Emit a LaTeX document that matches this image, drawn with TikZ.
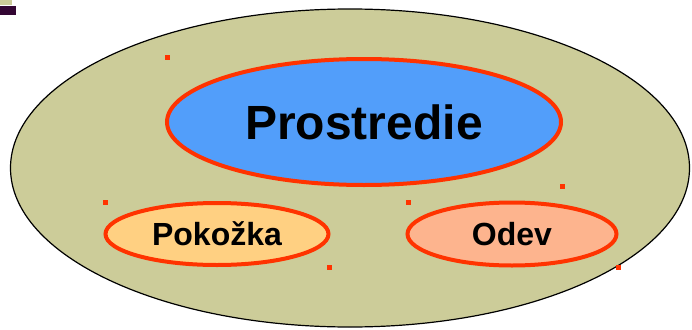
\documentclass[tikz,border=0pt]{standalone}
\usepackage{fontspec}
\setmainfont{Liberation Sans}
\usetikzlibrary{shapes.geometric}

\definecolor{khaki}{RGB}{204,204,153}
\definecolor{envblue}{RGB}{82,158,250}
\definecolor{skinfill}{RGB}{255,208,130}
\definecolor{clothfill}{RGB}{253,180,142}
\definecolor{redline}{RGB}{255,51,0}
\definecolor{barpurple}{RGB}{51,6,51}

\begin{document}
\begin{tikzpicture}[
    x=1pt, y=-1pt,
    font=\bfseries,
    layer/.style={ellipse, draw=redline, line width=4pt, inner sep=0pt},
    big/.style={layer, font=\fontsize{48}{56}\selectfont\bfseries},
    small/.style={layer, font=\fontsize{32}{38}\selectfont\bfseries},
    handle/.style={rectangle, fill=redline, minimum size=5pt, inner sep=0pt}
]
\useasboundingbox (0,0) rectangle (692,329);

% Corner mark
\fill[khaki] (0,0) rectangle (12,5);
\fill[barpurple] (0,6) rectangle (16,15);

% Outer area
\node[ellipse, draw=black, line width=1.2pt, fill=khaki, minimum width=679pt, minimum height=318pt] (area) at (350,168) {};

% Layers
\node[big, fill=envblue, minimum width=394pt, minimum height=126pt] (env) at (364,122) {Prostredie};
\node[small, fill=skinfill, minimum width=223pt, minimum height=62pt] (skin) at (217,234) {Pokožka};
\node[small, fill=clothfill, minimum width=209pt, minimum height=63pt] (cloth) at (512,234) {Odev};

% Handles
\foreach \p [count=\i] in {(167,57), (562,186), (105,202), (329,267), (408,202), (618,267)}
    \node[handle] (h\i) at \p {};

\end{tikzpicture}
\end{document}
